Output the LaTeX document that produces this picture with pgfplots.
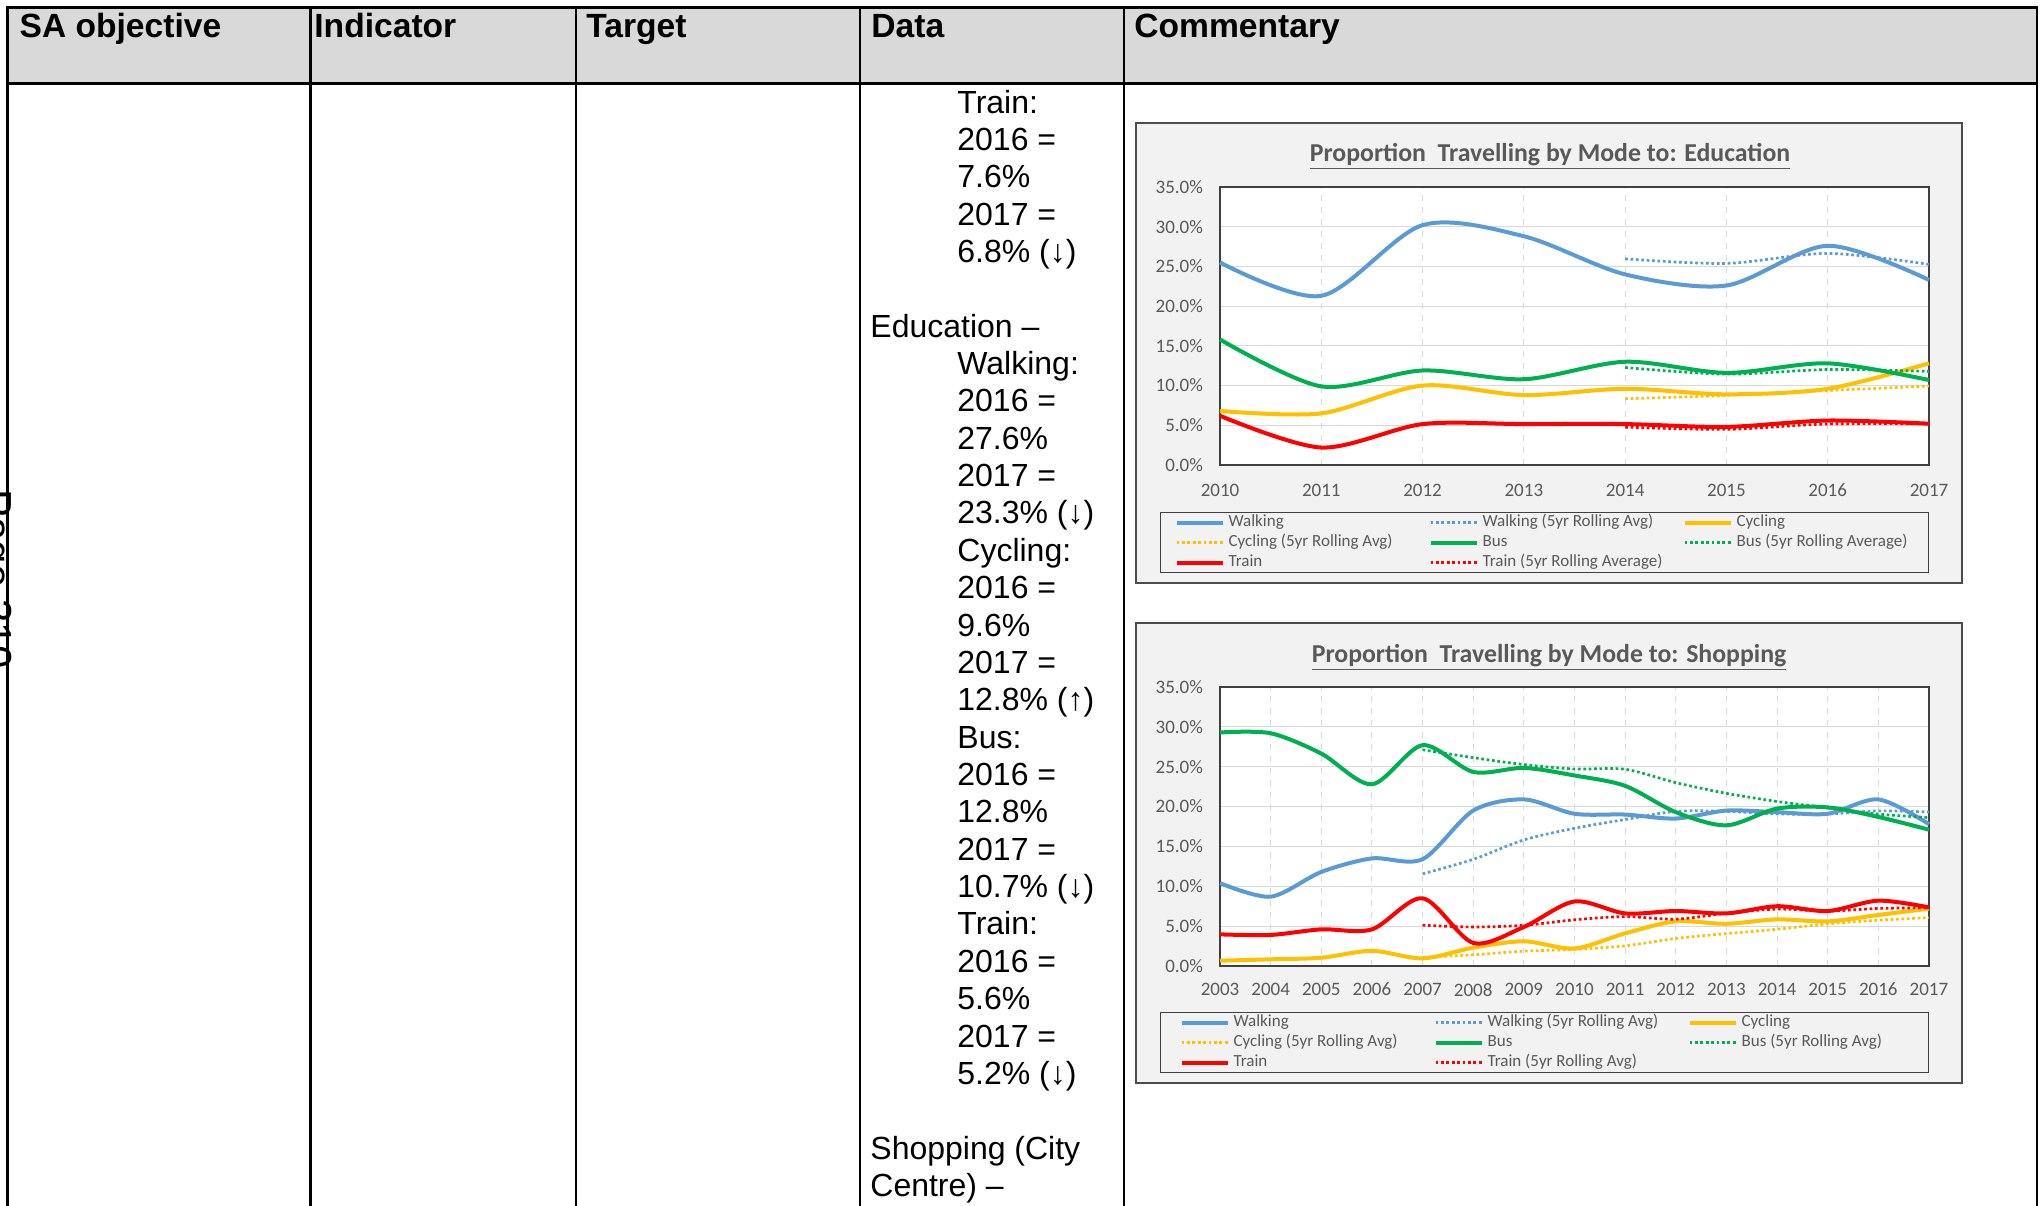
\documentclass[border=0pt]{standalone}
\usepackage{fontspec}
\setmainfont{Liberation Sans}
\newfontfamily\chartfont{Carlito}
\usepackage{pgfplots}
\pgfplotsset{compat=1.18}
\definecolor{walk}{HTML}{5B9BD5}
\definecolor{cyc}{HTML}{FFC000}
\definecolor{bus}{HTML}{00B050}
\definecolor{train}{HTML}{FF0000}
\definecolor{labelgray}{HTML}{595959}
\definecolor{gridgray}{HTML}{D9D9D9}
\definecolor{chartbg}{HTML}{F2F2F2}
\definecolor{headgray}{HTML}{D9D9D9}
\pgfplotsset{
  solidl/.style={line width=2pt, smooth, tension=0.5},
  dotl/.style={line width=1.35pt, smooth, tension=0.5, dash pattern=on 1.35pt off 1.35pt},
  mychart/.style={
    scale only axis, width=354.5pt,
    ymin=0, ymax=35, ytick={0,5,...,35},
    clip=false,
    axis background/.style={fill=white},
    axis line style={draw=black!75, line width=0.8pt},
    xmajorgrids, ymajorgrids,
    x grid style={gridgray, dashed, line width=0.5pt},
    y grid style={gridgray, line width=0.6pt},
    major tick length=0pt,
    /pgf/number format/assume math mode=true,
    /pgf/number format/1000 sep={},
    ticklabel style={font=\chartfont\fontsize{9.5}{11}\selectfont, text=labelgray},
    yticklabel style={xshift=-5pt},
    yticklabel={\pgfmathprintnumber[fixed,fixed zerofill,precision=1]{\tick}\%},
    legend columns=3,
    legend cell align=left,
    legend image code/.code={\draw[##1, line cap=butt] (0pt,0pt) -- (23pt,0pt);},
    legend style={anchor=north west, draw=black!75, line width=0.6pt, fill=none,
      inner ysep=0pt, column sep=0pt, row sep=0pt,
      nodes={inner xsep=2pt, inner ysep=0pt, text height=7pt, text depth=3pt,
        font=\chartfont\fontsize{8.5}{10}\selectfont, text=labelgray}},
  }
}
\begin{document}
\begin{tikzpicture}
\path[use as bounding box] (0,0) rectangle (1022pt,-602.5pt);
\clip (0,0) rectangle (1022pt,-602.5pt);
% header fill
\fill[headgray] (3.75pt,-3.75pt) rectangle (1018.5pt,-41.75pt);
% chart frames
\filldraw[fill=chartbg, draw=black!70, line width=0.6pt] (568pt,-61.5pt) rectangle (981pt,-291.5pt);
\filldraw[fill=chartbg, draw=black!70, line width=0.6pt] (568pt,-311.5pt) rectangle (981pt,-541.5pt);
% titles
\node[anchor=base, inner sep=0pt, text=labelgray, font=\chartfont\bfseries\fontsize{12.9}{15}\selectfont] at (775pt,-80.5pt) {\underline{Proportion\ \ Travelling by Mode to: Education}};
\node[anchor=base, inner sep=0pt, text=labelgray, font=\chartfont\bfseries\fontsize{12.9}{15}\selectfont] at (774.5pt,-331pt) {\underline{Proportion\ \ Travelling by Mode to: Shopping}};

% ---------------- Education chart
\begin{axis}[mychart, at={(610pt,-232.5pt)}, anchor=south west, height=139pt,
  xmin=2010, xmax=2017, xtick={2010,2011,...,2017},
  xticklabel style={yshift=-6pt},
  legend style={at={(-0.0846,-0.169)}, inner xsep=7pt}]
\addplot[solidl, walk] coordinates {(2010,25.5)(2011,21.3)(2012,30.2)(2013,28.8)(2014,24.0)(2015,22.6)(2016,27.6)(2017,23.3)};
\addlegendentry{\makebox[98pt][l]{Walking}}
\addplot[dotl, walk] coordinates {(2014,25.96)(2015,25.38)(2016,26.64)(2017,25.26)};
\addlegendentry{\makebox[98pt][l]{Walking (5yr Rolling Avg)}}
\addplot[solidl, cyc] coordinates {(2010,6.8)(2011,6.5)(2012,10.0)(2013,8.8)(2014,9.6)(2015,8.9)(2016,9.6)(2017,12.8)};
\addlegendentry{\makebox[87pt][l]{Cycling}}
\addplot[dotl, cyc] coordinates {(2014,8.34)(2015,8.76)(2016,9.38)(2017,9.94)};
\addlegendentry{\makebox[98pt][l]{Cycling (5yr Rolling Avg)}}
\addplot[solidl, bus] coordinates {(2010,15.8)(2011,9.9)(2012,11.9)(2013,10.8)(2014,13.0)(2015,11.6)(2016,12.8)(2017,10.7)};
\addlegendentry{\makebox[98pt][l]{Bus}}
\addplot[dotl, bus] coordinates {(2014,12.28)(2015,11.44)(2016,12.02)(2017,11.78)};
\addlegendentry{\makebox[87pt][l]{Bus (5yr Rolling Average)}}
\addplot[solidl, train] coordinates {(2010,6.2)(2011,2.2)(2012,5.15)(2013,5.15)(2014,5.15)(2015,4.8)(2016,5.6)(2017,5.2)};
\addlegendentry{\makebox[98pt][l]{Train}}
\addplot[dotl, train] coordinates {(2014,4.77)(2015,4.49)(2016,5.17)(2017,5.18)};
\addlegendentry{\makebox[98pt][l]{Train (5yr Rolling Average)}}
\end{axis}

% ---------------- Shopping chart
\begin{axis}[mychart, at={(610pt,-483pt)}, anchor=south west, height=139.5pt,
  xmin=2003, xmax=2017, xtick={2003,2004,...,2017},
  xticklabel style={yshift=-5pt},
  legend style={at={(-0.0846,-0.165)}, inner xsep=9.5pt}]
\addplot[solidl, walk] coordinates {(2003,10.4)(2004,8.7)(2005,11.8)(2006,13.5)(2007,13.4)(2008,19.5)(2009,20.9)(2010,19.1)(2011,19.0)(2012,18.5)(2013,19.5)(2014,19.3)(2015,19.1)(2016,20.9)(2017,17.8)};
\addlegendentry{\makebox[98pt][l]{Walking}}
\addplot[dotl, walk] coordinates {(2007,11.56)(2008,13.38)(2009,15.82)(2010,17.28)(2011,18.38)(2012,19.4)(2013,19.4)(2014,19.08)(2015,19.08)(2016,19.46)(2017,19.32)};
\addlegendentry{\makebox[98pt][l]{Walking (5yr Rolling Avg)}}
\addplot[solidl, cyc] coordinates {(2003,0.67)(2004,0.84)(2005,1.04)(2006,1.9)(2007,0.96)(2008,2.3)(2009,3.1)(2010,2.2)(2011,4.1)(2012,5.6)(2013,5.3)(2014,5.85)(2015,5.6)(2016,6.4)(2017,7.2)};
\addlegendentry{\makebox[82pt][l]{Cycling}}
\addplot[dotl, cyc] coordinates {(2007,1.08)(2008,1.41)(2009,1.86)(2010,2.09)(2011,2.53)(2012,3.46)(2013,4.06)(2014,4.61)(2015,5.29)(2016,5.75)(2017,6.07)};
\addlegendentry{\makebox[98pt][l]{Cycling (5yr Rolling Avg)}}
\addplot[solidl, bus] coordinates {(2003,29.3)(2004,29.2)(2005,26.65)(2006,22.8)(2007,27.7)(2008,24.35)(2009,24.85)(2010,23.9)(2011,22.6)(2012,19.3)(2013,17.65)(2014,19.75)(2015,19.9)(2016,18.7)(2017,17.1)};
\addlegendentry{\makebox[98pt][l]{Bus}}
\addplot[dotl, bus] coordinates {(2007,27.13)(2008,26.14)(2009,25.27)(2010,24.72)(2011,24.68)(2012,23.0)(2013,21.66)(2014,20.64)(2015,19.84)(2016,19.06)(2017,18.62)};
\addlegendentry{\makebox[82pt][l]{Bus (5yr Rolling Avg)}}
\addplot[solidl, train] coordinates {(2003,3.97)(2004,3.9)(2005,4.6)(2006,4.6)(2007,8.5)(2008,2.9)(2009,4.9)(2010,8.1)(2011,6.6)(2012,6.9)(2013,6.6)(2014,7.5)(2015,6.9)(2016,8.2)(2017,7.35)};
\addlegendentry{\makebox[98pt][l]{Train}}
\addplot[dotl, train] coordinates {(2007,5.11)(2008,4.9)(2009,5.1)(2010,5.8)(2011,6.2)(2012,5.88)(2013,6.62)(2014,7.14)(2015,6.9)(2016,7.22)(2017,7.31)};
\addlegendentry{\makebox[98pt][l]{Train (5yr Rolling Avg)}}
\end{axis}

% ---------------- table lines
\begin{scope}[line width=1.15pt, black]
\draw (3.75pt,-3.75pt) -- (1018.5pt,-3.75pt);
\draw (3.75pt,-41.75pt) -- (1018.5pt,-41.75pt);
\foreach \xx in {3.75,155.25,288,430,562,1018.5}
  \draw (\xx pt,-3.2pt) -- (\xx pt,-610pt);
\end{scope}

% header text
\begin{scope}[every node/.style={inner sep=0pt, anchor=base west, font=\bfseries\fontsize{16.8}{19}\selectfont}]
\node at (9.6pt,-18.65pt) {SA objective};
\node at (157pt,-18.65pt) {Indicator};
\node at (293pt,-18.65pt) {Target};
\node at (435.5pt,-18.65pt) {Data};
\node at (567pt,-18.65pt) {Commentary};
\end{scope}

% page number (rotated, cut by the page edge)
\node[rotate=-90, anchor=base west, inner sep=0pt, font=\fontsize{21}{24}\selectfont] at (-9pt,-244.5pt) {Page 310};

% data column text
\begin{scope}[every node/.style={inner sep=0pt, anchor=base west, font=\fontsize{16}{18}\selectfont}]
\node at (478.5pt,-56.5pt) {Train:};
\node at (478.5pt,-75.18pt) {2016 =};
\node at (478.5pt,-93.86pt) {7.6\%};
\node at (478.5pt,-112.54pt) {2017 =};
\node at (478.5pt,-131.22pt) {6.8\% (↓)};
\node at (435pt,-168.58pt) {Education –};
\node at (478.5pt,-187.26pt) {Walking:};
\node at (478.5pt,-205.94pt) {2016 =};
\node at (478.5pt,-224.62pt) {27.6\%};
\node at (478.5pt,-243.3pt) {2017 =};
\node at (478.5pt,-261.98pt) {23.3\% (↓)};
\node at (478.5pt,-280.66pt) {Cycling:};
\node at (478.5pt,-299.34pt) {2016 =};
\node at (478.5pt,-318.02pt) {9.6\%};
\node at (478.5pt,-336.7pt) {2017 =};
\node at (478.5pt,-355.38pt) {12.8\% (↑)};
\node at (478.5pt,-374.06pt) {Bus:};
\node at (478.5pt,-392.74pt) {2016 =};
\node at (478.5pt,-411.42pt) {12.8\%};
\node at (478.5pt,-430.1pt) {2017 =};
\node at (478.5pt,-448.78pt) {10.7\% (↓)};
\node at (478.5pt,-467.46pt) {Train:};
\node at (478.5pt,-486.14pt) {2016 =};
\node at (478.5pt,-504.82pt) {5.6\%};
\node at (478.5pt,-523.5pt) {2017 =};
\node at (478.5pt,-542.18pt) {5.2\% (↓)};
\node at (435pt,-579.54pt) {Shopping (City};
\node at (435pt,-598.22pt) {Centre) –};
\end{scope}
\end{tikzpicture}
\end{document}
